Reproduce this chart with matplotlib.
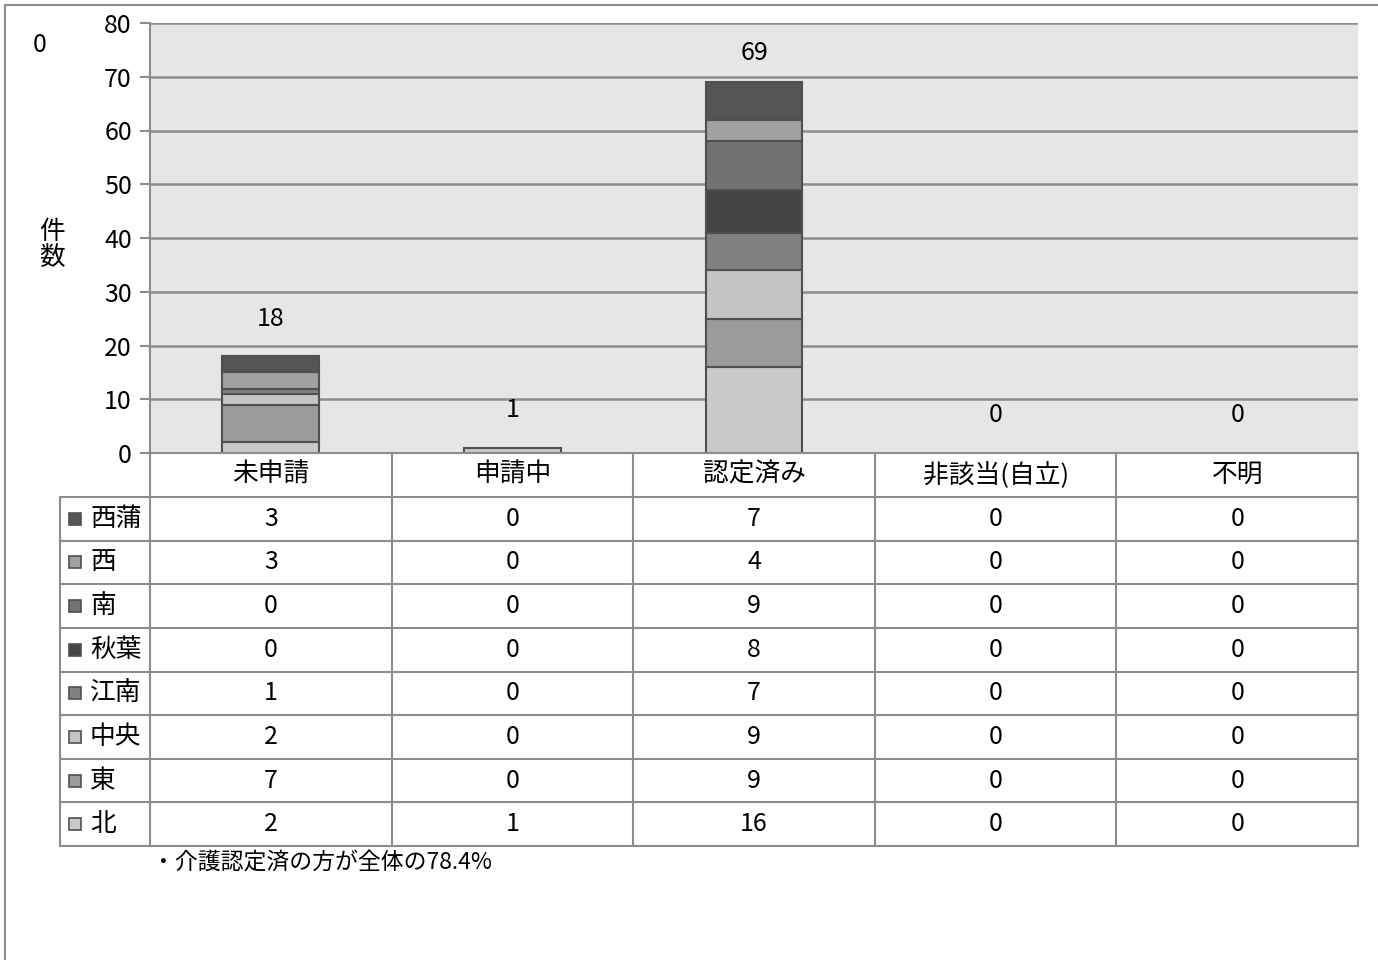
import matplotlib.pyplot as plt
from matplotlib.patches import Rectangle
import numpy as np

plt.rcParams['font.family'] = ['Noto Sans CJK JP', 'DejaVu Sans']

# categories and series (bottom of stack first)
categories = ['未申請', '申請中', '認定済み', '非該当(自立)', '不明']
areas = ['北', '東', '中央', '江南', '秋葉', '南', '西', '西蒲']
values = {
    '北':   [2, 1, 16, 0, 0],
    '東':   [7, 0, 9, 0, 0],
    '中央': [2, 0, 9, 0, 0],
    '江南': [1, 0, 7, 0, 0],
    '秋葉': [0, 0, 8, 0, 0],
    '南':   [0, 0, 9, 0, 0],
    '西':   [3, 0, 4, 0, 0],
    '西蒲': [3, 0, 7, 0, 0],
}
colors = {
    '北': '#c9c9c9', '東': '#9b9b9b', '中央': '#c4c4c4', '江南': '#818181',
    '秋葉': '#454545', '南': '#727272', '西': '#a1a1a1', '西蒲': '#555555',
}
note = '・介護認定済の方が全体の78.4%'

NUM_FS = 18
JP_FS = 18.5

W, H = 1378, 960
fig = plt.figure(figsize=(W / 100, H / 100), dpi=100)

def fbox(l, t, r, b):
    return [l / W, 1 - b / H, (r - l) / W, (b - t) / H]

# outer frame
fig.patches.append(Rectangle((5 / W, -0.01), 1.0, 1 - 5 / H + 0.01, transform=fig.transFigure,
                             fill=False, edgecolor='#8c8c8c', linewidth=1.5))

# main chart
ax = fig.add_axes(fbox(150, 23, 1358, 453))
ax.set_facecolor('#e6e6e6')
x = np.arange(len(categories))
bottom = np.zeros(len(categories))
for a in areas:
    v = np.array(values[a], dtype=float)
    nz = v > 0
    ax.bar(x[nz], v[nz], width=0.4, bottom=bottom[nz], color=colors[a],
           edgecolor='#505050', linewidth=1.5, zorder=3)
    bottom += v
totals = bottom
for xi, t in zip(x, totals):
    ax.text(xi, min(t + 7, 74.5), f'{int(t)}', ha='center', va='center', fontsize=NUM_FS)

ax.set_xlim(-0.5, len(categories) - 0.5)
ax.set_ylim(0, 80)
ax.set_yticks(np.arange(0, 81, 10))
ax.set_xticks([])
ax.grid(axis='y', color='#8c8c8c', linewidth=1.8, zorder=1)
ax.tick_params(axis='y', length=7, width=1.5, color='#8c8c8c', labelsize=NUM_FS, pad=6)
for s in ['top', 'right']:
    ax.spines[s].set_visible(False)
ax.spines['left'].set_color('#8c8c8c')
ax.spines['left'].set_linewidth(1.5)
ax.spines['bottom'].set_visible(False)

fig.text(40 / W, 1 - 45 / H, '0', fontsize=NUM_FS, ha='center', va='center')
fig.text(52 / W, 1 - 245 / H, '件\n数', fontsize=JP_FS, ha='center', va='center', linespacing=1.0)

# data table
tx = fig.add_axes(fbox(60, 453, 1358, 846))
tx.set_xlim(60, 1358)
tx.set_ylim(846, 453)
tx.axis('off')
lc = '#8c8c8c'
col_edges = np.linspace(150, 1358, len(categories) + 1)
nrows = len(areas)
row_edges = np.linspace(497, 846, nrows + 1)
# horizontal lines
tx.plot([150, 1358], [453, 453], color=lc, lw=1.5, clip_on=False)
for y in row_edges:
    tx.plot([60, 1358], [y, y], color=lc, lw=1.5, clip_on=False)
# vertical lines
tx.plot([60, 60], [497, 846], color=lc, lw=1.5, clip_on=False)
for xe in col_edges:
    tx.plot([xe, xe], [453, 846], color=lc, lw=1.5, clip_on=False)
# header
for i, c in enumerate(categories):
    tx.text((col_edges[i] + col_edges[i + 1]) / 2, 475, c, ha='center', va='center', fontsize=JP_FS)
# rows (top row = last series)
for r, a in enumerate(areas[::-1]):
    yc = (row_edges[r] + row_edges[r + 1]) / 2
    tx.add_patch(Rectangle((69, yc - 6), 12, 12, facecolor=colors[a], edgecolor='#505050', lw=1.2))
    tx.text(90, yc, a, ha='left', va='center', fontsize=JP_FS)
    for i in range(len(categories)):
        tx.text((col_edges[i] + col_edges[i + 1]) / 2, yc, str(values[a][i]),
                ha='center', va='center', fontsize=NUM_FS)

fig.text(152 / W, 1 - 863 / H, note, fontsize=16.5, ha='left', va='center')

fig.savefig('out.png', dpi=100)
